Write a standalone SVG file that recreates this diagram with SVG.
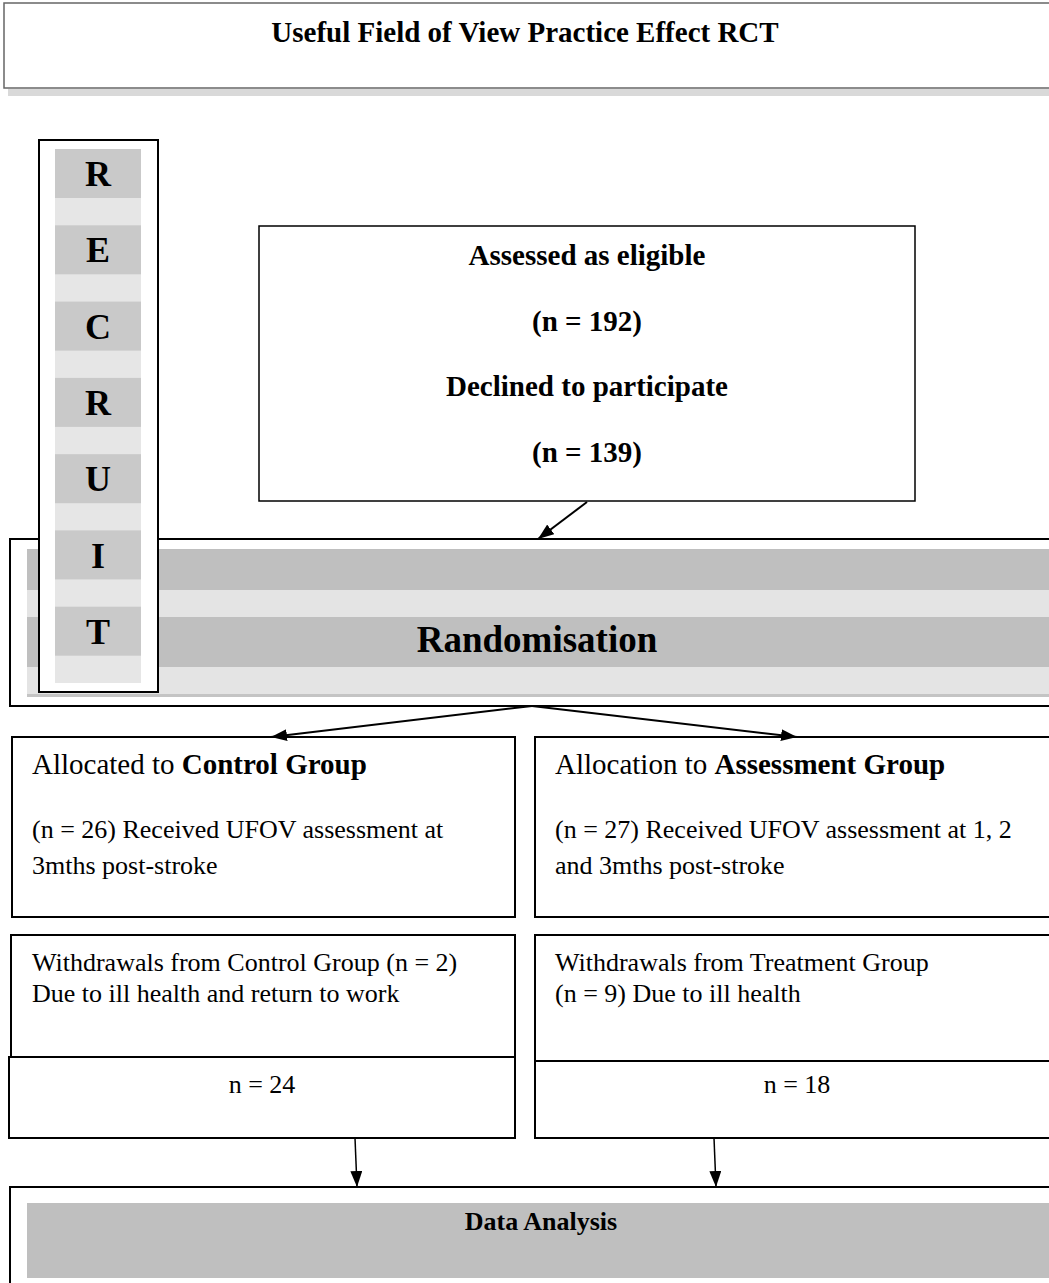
<svg xmlns="http://www.w3.org/2000/svg" width="1049" height="1283" viewBox="0 0 1049 1283">
<defs>
<style>
text{font-family:"Liberation Serif","Times New Roman",serif;fill:#000}
.b{font-weight:bold}
.h{font-size:29px;font-weight:bold}
.t{font-size:26px}
.m{text-anchor:middle}
.box{fill:#fff;stroke:#000;stroke-width:2}
.dk{fill:#c9c9c9}
.lt{fill:#e6e6e6}
.rd{fill:#bfbfbf}
.rl{fill:#e4e4e4}
.ln{stroke:#000;stroke-width:2;fill:none}
</style>
<marker id="ah2" viewBox="0 0 16 12" refX="16" refY="6" markerWidth="16" markerHeight="12" markerUnits="userSpaceOnUse" orient="auto">
<path d="M0,0 L16,6 L0,12 z" fill="#000"/>
</marker>
</defs>
<rect width="1049" height="1283" fill="#fff"/>

<g id="title">
<rect x="8" y="89" width="1050" height="7" fill="#d9d9d9"/>
<rect x="4" y="3" width="1060" height="85" fill="#fff" stroke="#666" stroke-width="1.5"/>
<text class="h m" x="525" y="42">Useful Field of View Practice Effect RCT</text>
</g>

<g id="eligible">
<rect x="259" y="226" width="656" height="275" fill="#fff" stroke="#000" stroke-width="1.5"/>
<text class="h m" x="587" y="265">Assessed as eligible</text>
<text class="h m" x="587" y="331">(n = 192)</text>
<text class="h m" x="587" y="396">Declined to participate</text>
<text class="h m" x="587" y="462">(n = 139)</text>
</g>

<g id="randomisation">
<rect class="box" x="10" y="539" width="1050" height="167"/>
<rect class="rd" x="27" y="549" width="1030" height="41"/>
<rect class="rl" x="27" y="590" width="1030" height="27"/>
<rect class="rd" x="27" y="617" width="1030" height="50"/>
<rect class="rl" x="27" y="667" width="1030" height="27"/>
<rect x="27" y="694" width="1030" height="3" fill="#c4c4c4"/>
<text class="m b" x="537" y="652" font-size="37">Randomisation</text>
</g>

<g id="recruit">
<rect class="box" x="39" y="140" width="119" height="552"/>
<rect class="lt" x="55" y="149" width="86" height="534"/>
<rect class="dk" x="55" y="149" width="86" height="49"/>
<rect class="dk" x="55" y="225.3" width="86" height="49"/>
<rect class="dk" x="55" y="301.6" width="86" height="49"/>
<rect class="dk" x="55" y="377.9" width="86" height="49"/>
<rect class="dk" x="55" y="454.2" width="86" height="49"/>
<rect class="dk" x="55" y="530.4" width="86" height="49"/>
<rect class="dk" x="55" y="606.7" width="86" height="49"/>
<g class="b m" font-size="36">
<text class="m" x="98" y="186">R</text>
<text class="m" x="98" y="262">E</text>
<text class="m" x="98" y="339">C</text>
<text class="m" x="98" y="415">R</text>
<text class="m" x="98" y="491">U</text>
<text class="m" x="98" y="568">I</text>
<text class="m" x="98" y="644">T</text>
</g>
</g>

<g id="control">
<rect class="box" x="12" y="737" width="503" height="180"/>
<text x="32" y="774" font-size="29">Allocated to <tspan class="b">Control Group</tspan></text>
<text class="t" x="32" y="838">(n = 26) Received UFOV assessment at</text>
<text class="t" x="32" y="874">3mths post-stroke</text>
</g>

<g id="assessment">
<rect class="box" x="535" y="737" width="525" height="180"/>
<text x="555" y="774" font-size="29">Allocation to <tspan class="b">Assessment Group</tspan></text>
<text class="t" x="555" y="838">(n = 27) Received UFOV assessment at 1, 2</text>
<text class="t" x="555" y="874">and 3mths post-stroke</text>
</g>

<g id="withdraw-control">
<rect class="box" x="11" y="935" width="504" height="130"/>
<text class="t" x="32" y="971">Withdrawals from Control Group (n = 2)</text>
<text class="t" x="32" y="1002">Due to ill health and return to work</text>
</g>

<g id="withdraw-treatment">
<rect class="box" x="535" y="935" width="525" height="130"/>
<text class="t" x="555" y="971">Withdrawals from Treatment Group</text>
<text class="t" x="555" y="1002">(n = 9) Due to ill health</text>
</g>

<g id="n24">
<rect class="box" x="9" y="1057" width="506" height="81"/>
<text class="t m" x="262" y="1093">n = 24</text>
</g>

<g id="n18">
<rect class="box" x="535" y="1061" width="525" height="77"/>
<text class="t m" x="797" y="1093">n = 18</text>
</g>

<g id="analysis">
<rect class="box" x="10" y="1187" width="1050" height="100"/>
<rect class="rd" x="27" y="1203" width="1030" height="75"/>
<text class="m b" x="541" y="1230" font-size="26">Data Analysis</text>
</g>

<g id="connectors">
<line class="ln" x1="587" y1="502" x2="538" y2="539" marker-end="url(#ah2)"/>
<line class="ln" x1="532" y1="706" x2="271" y2="737" marker-end="url(#ah2)"/>
<line class="ln" x1="532" y1="706" x2="797" y2="737" marker-end="url(#ah2)"/>
<line x1="355" y1="1138" x2="357" y2="1187" stroke="#000" stroke-width="1.5" marker-end="url(#ah2)"/>
<line x1="714" y1="1138" x2="716" y2="1187" stroke="#000" stroke-width="1.5" marker-end="url(#ah2)"/>
</g>
</svg>
